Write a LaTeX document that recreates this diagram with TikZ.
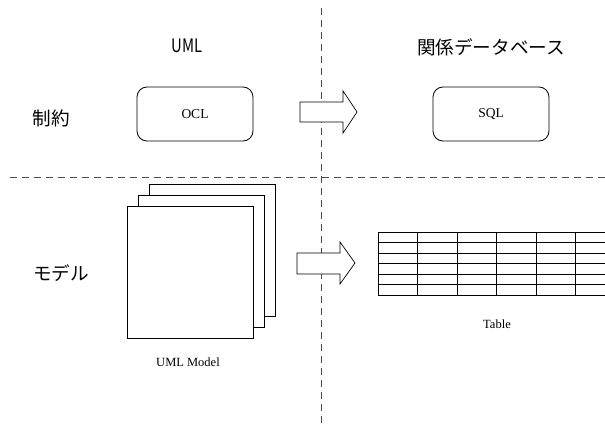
\documentclass[tikz,border=0pt]{standalone}
\usepackage{fontspec}
\usetikzlibrary{calc}
\setmainfont{Liberation Serif}
\newfontfamily\jpfont{Noto Sans CJK JP}
\tikzset{
  sepline/.style={draw=black!70, line width=0.9pt, dash pattern=on 7pt off 5pt},
  rbox/.style={draw, rounded corners=10pt, minimum width=116pt, minimum height=54pt, line width=0.8pt, font=\fontsize{13.5}{15}\selectfont},
  pagebox/.style={draw, fill=white, line width=1pt, minimum width=126pt, minimum height=132pt, inner sep=0pt},
  blockarrow/.style={draw, fill=white, line width=0.7pt, line join=miter},
  jptext/.style={font=\jpfont\fontsize{18.6}{20}\selectfont, inner sep=0pt},
  lbl/.style={font=\fontsize{12.5}{14}\selectfont, inner sep=0pt},
  tblline/.style={draw, line width=0.8pt}
}
\begin{document}
\begin{tikzpicture}[x=1pt,y=-1pt]
\useasboundingbox (0,0) rectangle (605,428);
% separators
\draw[sepline] (321,8) -- (321,426);
\draw[sepline] (10,177) -- (605,177);
% headers
\node[jptext] (umlhead) at (187,46) {\scalebox{0.8}[1]{UML}};
\node[jptext] (dbhead) at (491,47) {関係データベース};
\node[jptext] (constr) at (51,118) {制約};
\node[jptext] (model) at (61,273) {モデル};
% constraint row
\node[rbox] (ocl) at (195,114) {OCL};
\node[rbox] (sql) at (491,114) {SQL};
\draw[blockarrow] (300,102) -- (343,102) -- (343,91) -- (357,112) -- (343,133) -- (343,122) -- (300,122) -- cycle;
% model row
\node[pagebox] (page3) at (212,250) {};
\node[pagebox] (page2) at (201,261) {};
\node[pagebox] (page1) at (190,272) {};
\node[lbl] (umlmodel) at (188,362) {UML Model};
\draw[blockarrow] (297,253) -- (340,253) -- (340,242) -- (355,263) -- (340,284) -- (340,274) -- (297,274) -- cycle;
% table
\coordinate (tbl) at (378,232);
\foreach \r in {0,...,6} \draw[tblline] ($(tbl)+(0,\r*10.5)$) -- ($(tbl)+(227,\r*10.5)$);
\foreach \c in {0,...,5} \draw[tblline] ($(tbl)+(\c*39.5,0)$) -- ($(tbl)+(\c*39.5,63)$);
\node[lbl] (tablelbl) at (497,324) {Table};
\end{tikzpicture}
\end{document}
